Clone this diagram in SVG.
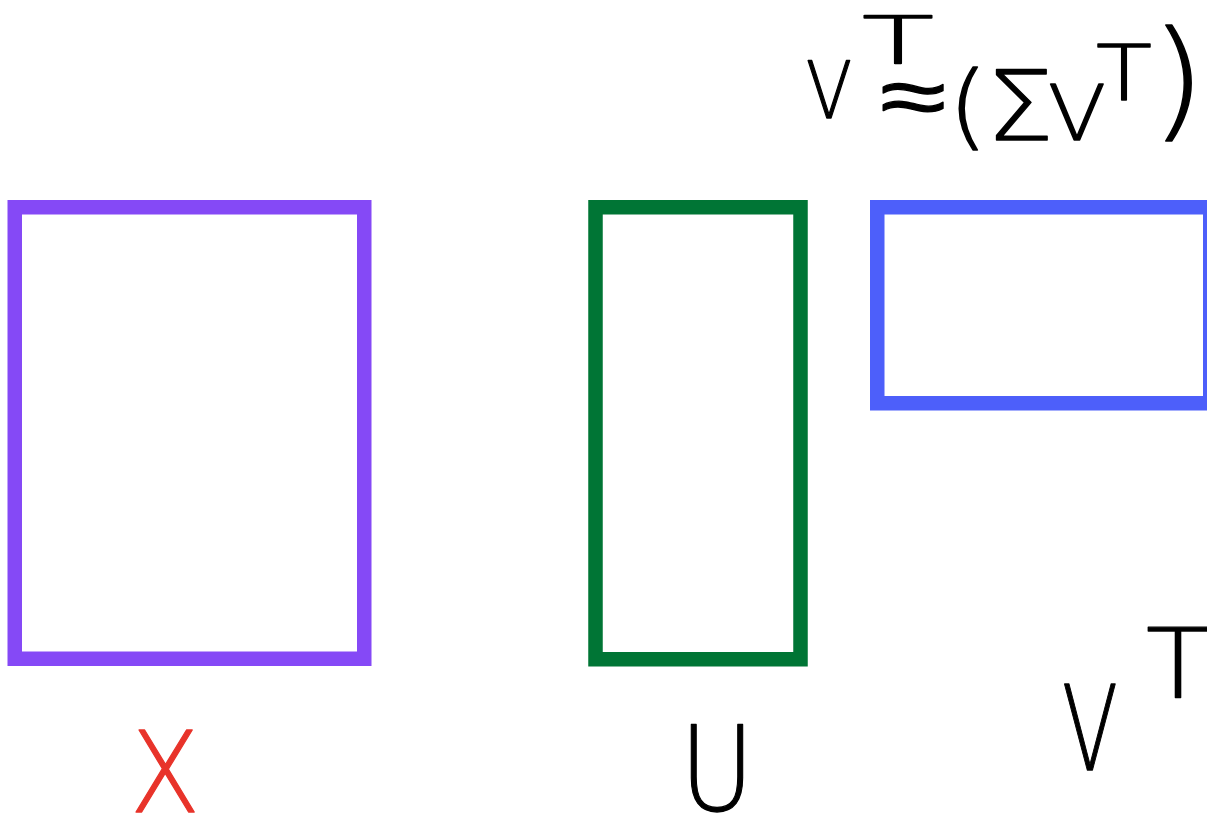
<svg xmlns="http://www.w3.org/2000/svg" width="1207" height="817" viewBox="0 0 1207 817">
<style>
.box{fill:none;stroke-width:14.5}
.hw{font-family:"DejaVu Sans","Liberation Sans",sans-serif;font-weight:200;fill:#000;stroke:#000;stroke-width:1.3;stroke-linejoin:round}
.red{fill:#e8332a;stroke:#e8332a}
</style>
<rect width="1207" height="817" fill="#ffffff"/>
<g id="node-X">
<rect class="box" x="14.75" y="207.25" width="349.5" height="451.5" stroke="#8549f6"/>
<text class="hw red" x="130" y="812" font-size="112" textLength="70" lengthAdjust="spacingAndGlyphs">X</text>
</g>
<g id="node-U">
<rect class="box" x="595.5" y="207.25" width="205" height="452" stroke="#007535"/>
<text class="hw" x="680" y="810" font-size="118" textLength="74" lengthAdjust="spacingAndGlyphs">U</text>
</g>
<g id="node-VT">
<rect class="box" x="877.25" y="207.25" width="333" height="196" stroke="#4d5ffa"/>
<text class="hw" x="1062" y="770" font-size="118" textLength="56" lengthAdjust="spacingAndGlyphs">V</text>
<text class="hw" x="1146" y="697" font-size="96" textLength="64" lengthAdjust="spacingAndGlyphs">T</text>
</g>
<g id="formula">
<text class="hw" x="806" y="118" font-size="78" textLength="46" lengthAdjust="spacingAndGlyphs">V</text>
<text class="hw" x="862" y="64" font-size="66" textLength="72" lengthAdjust="spacingAndGlyphs">T</text>
<text class="hw" x="880" y="126" font-size="86" textLength="66" lengthAdjust="spacingAndGlyphs">≈</text>
<text class="hw" x="948" y="138" font-size="92" textLength="40" lengthAdjust="spacingAndGlyphs">(</text>
<text class="hw" x="986" y="140" font-size="96" textLength="68" lengthAdjust="spacingAndGlyphs">Σ</text>
<text class="hw" x="1048" y="140" font-size="76" textLength="58" lengthAdjust="spacingAndGlyphs">V</text>
<text class="hw" x="1096" y="100" font-size="76" textLength="56" lengthAdjust="spacingAndGlyphs">T</text>
<text class="hw" x="1150" y="124" font-size="130" textLength="56" lengthAdjust="spacingAndGlyphs">)</text>
</g>
<g id="connectors"></g>
</svg>
